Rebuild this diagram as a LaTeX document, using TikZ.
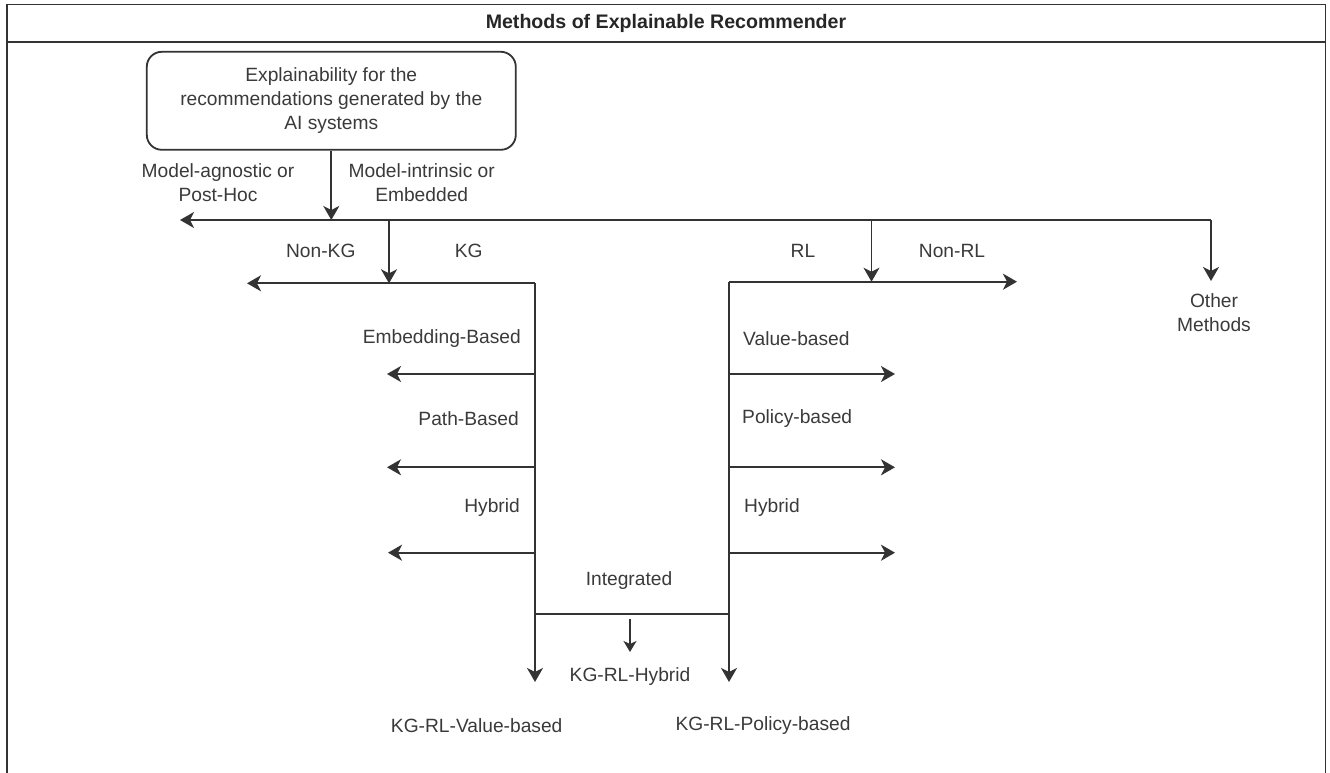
\documentclass[tikz,border=0pt]{standalone}
\usepackage{fontspec}
\setmainfont{Liberation Sans}
\usetikzlibrary{arrows.meta}
\definecolor{ink}{HTML}{333333}
\definecolor{txt}{HTML}{3A3A3A}
\tikzset{
  ln/.style={draw=ink, line width=1.8pt},
  arr/.style={ln, -{Stealth[length=14pt,width=16pt,inset=4pt]}},
  sarr/.style={ln, line width=1.6pt, -{Stealth[length=11pt,width=13pt,inset=3pt]}},
  lbl/.style={text=txt, inner sep=0pt, font=\fontsize{19.2}{24}\selectfont, align=center},
  lblr/.style={lbl, anchor=east},
  lbll/.style={lbl, anchor=west},
  ttl/.style={text=black!85, inner sep=0pt, font=\fontsize{19.6}{24}\selectfont\bfseries},
  rbox/.style={draw=ink, line width=1.8pt, rounded corners=15pt, minimum width=369pt, minimum height=98pt, text=txt, align=center, font=\fontsize{19.2}{24}\selectfont}
}
\begin{document}
\begin{tikzpicture}[x=1pt,y=-1pt]
\useasboundingbox (0,0) rectangle (1330,773);
% frame
\draw[draw=ink, line width=1.9pt] (7,773) -- (7,4.5) -- (1325.5,4.5) -- (1325.5,773);
\draw[draw=ink, line width=1.9pt] (7,42) -- (1325.5,42);
\node[ttl] (title) at (666,23) {Methods of Explainable Recommender};
% root box
\node[rbox] (root) at (331.3,100.8) {Explainability for the\\recommendations generated by the\\AI systems};
% coordinates
\coordinate (j1) at (331.3,220);
\coordinate (agn) at (180,220);
\coordinate (j2) at (389,220);
\coordinate (oth) at (1211,220);
\coordinate (othtip) at (1211,281);
\coordinate (j3) at (871.5,220);
\coordinate (kgj) at (389,283.3);
\coordinate (nkg) at (247,283.3);
\coordinate (kgc) at (535,283.3);
\coordinate (kgb) at (535,682);
\coordinate (rlc) at (729,281.7);
\coordinate (rlj) at (871.5,281.7);
\coordinate (nrl) at (1017,281.7);
\coordinate (rlb) at (729,682);
\coordinate (ka) at (535,374);
\coordinate (kat) at (387,374);
\coordinate (kp) at (535,467.3);
\coordinate (kpt) at (387,467.3);
\coordinate (kh) at (535,552.7);
\coordinate (kht) at (388,552.7);
\coordinate (ra) at (729,374);
\coordinate (rat) at (895,374);
\coordinate (rp) at (729,467.3);
\coordinate (rpt) at (895,467.3);
\coordinate (rh) at (729,552.7);
\coordinate (rht) at (895,552.7);
\coordinate (il) at (535,614);
\coordinate (ir) at (729,614);
\coordinate (is) at (630,619);
\coordinate (ist) at (630,652);
% connectors
\draw[arr] (root.south) -- (j1);
\draw[arr] (j1) -- (agn);
\draw[ln] (j1) -- (oth);
\draw[arr] (oth) -- (othtip);
\draw[arr] (j2) -- (kgj);
\draw[arr] (kgj) -- (nkg);
\draw[ln] (kgj) -- (kgc);
\draw[arr] (kgc) -- (kgb);
\draw[arr] (j3) -- (rlj);
\draw[arr] (rlc) -- (nrl);
\draw[arr] (rlc) -- (rlb);
\draw[arr] (ka) -- (kat);
\draw[arr] (kp) -- (kpt);
\draw[arr] (kh) -- (kht);
\draw[arr] (ra) -- (rat);
\draw[arr] (rp) -- (rpt);
\draw[arr] (rh) -- (rht);
\draw[ln] (il) -- (ir);
\draw[sarr] (is) -- (ist);
% labels
\node[lbl] (lagn) at (218,183) {Model-agnostic or\\Post-Hoc};
\node[lbl] (lint) at (421.7,183) {Model-intrinsic or\\Embedded};
\node[lbl] (lnkg) at (320.8,251) {Non-KG};
\node[lbl] (lkg) at (468.8,251) {KG};
\node[lbl] (lrl) at (803,251) {RL};
\node[lbl] (lnrl) at (952,251) {Non-RL};
\node[lbl] (loth) at (1214,312.5) {Other\\Methods};
\node[lblr] (lemb) at (521,338.5) {Embedding-Based};
\node[lblr] (lpath) at (519,418.5) {Path-Based};
\node[lblr] (lhyb) at (520,507.5) {Hybrid};
\node[lbll] (lval) at (743,338.5) {Value-based};
\node[lbll] (lpol) at (742,418.5) {Policy-based};
\node[lbll] (lhyb2) at (744,507.5) {Hybrid};
\node[lbl] (lint2) at (629,580.5) {Integrated};
\node[lbl] (lkrh) at (630,677) {KG-RL-Hybrid};
\node[lbl] (lkrv) at (476.7,726) {KG-RL-Value-based};
\node[lbl] (lkrp) at (763,726) {KG-RL-Policy-based};
\end{tikzpicture}
\end{document}
